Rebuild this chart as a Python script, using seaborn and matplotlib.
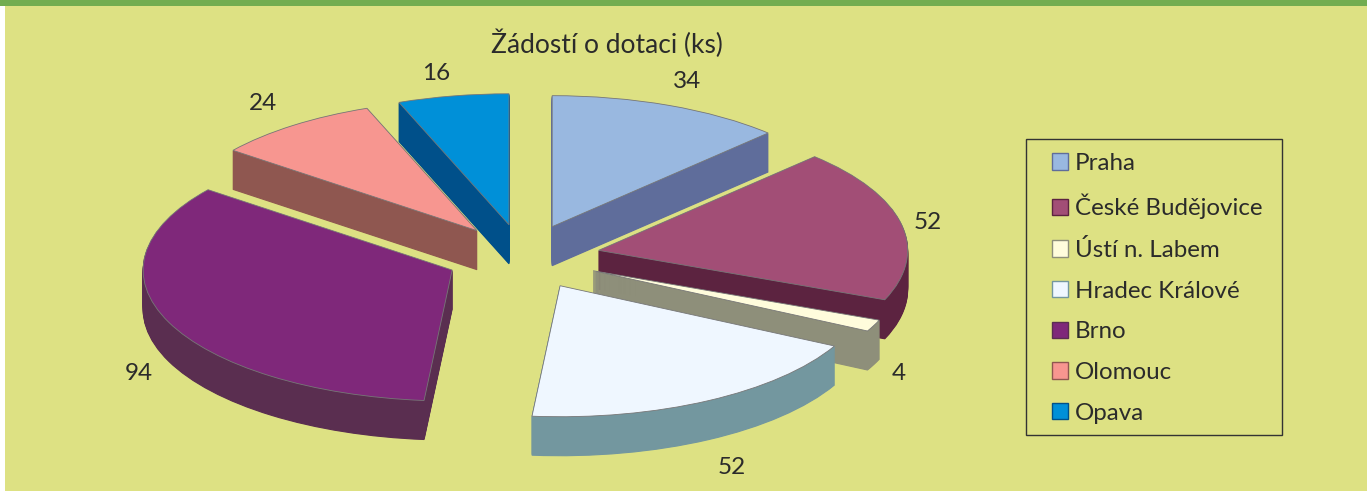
import matplotlib
matplotlib.use("Agg")
import matplotlib.pyplot as plt
from matplotlib.patches import Rectangle
import seaborn as sns

# data
regions = ["Praha", "České Budějovice", "Ústí n. Labem", "Hradec Králové", "Brno", "Olomouc", "Opava"]
requests = [34, 52, 4, 52, 94, 24, 16]
top_colors = ["#99b8e0", "#a24e76", "#fffcdc", "#eff7ff", "#7f287a", "#f79690", "#0090d8"]
side_colors = ["#5f6d9b", "#5c2340", "#8e8f7a", "#73979f", "#5a2e50", "#8f5750", "#00508a"]
draw_rank = [0, 4, 5, 6, 3, 2, 1]
chart_title = "Žádostí o dotaci (ks)"

W, H = 1367, 491
CX, CY, RX, RY = 523, 257, 309, 131
DEPTH = 39
BG = "#dde183"
BAND = "#72ad50"
INK = "#2b2b2b"

sns.set_style("white")
plt.rcParams["font.family"] = ["Lato", "DejaVu Sans"]

fig = plt.figure(figsize=(W / 100, H / 100), dpi=100, facecolor="white")
fig.add_artist(Rectangle((5 / W, 0), 1 - 5 / W, 1, transform=fig.transFigure, fc=BG, ec="none", zorder=-5))
fig.add_artist(Rectangle((0, 1 - 6 / H), 1, 6 / H, transform=fig.transFigure, fc=BAND, ec="none", zorder=-4))

ax = fig.add_axes([0, 0, 1, 1])
explode = [0.25] * len(requests)

for k in range(DEPTH, 0, -1):
    wedges, _ = ax.pie(requests, explode=explode, colors=side_colors, startangle=90,
                       counterclock=False, center=(0, -k / RY), radius=1,
                       wedgeprops=dict(linewidth=0.8))
    for w, sc, r in zip(wedges, side_colors, draw_rank):
        w.set_edgecolor(sc)
        w.set_zorder(10 + r * 100 + DEPTH - k)

top, _ = ax.pie(requests, explode=explode, colors=top_colors, startangle=90,
                counterclock=False, center=(0, 0), radius=1,
                wedgeprops=dict(linewidth=0.6, edgecolor="#777777"))
for w, r in zip(top, draw_rank):
    w.set_zorder(10 + r * 100 + DEPTH + 1)

ax.set_aspect("auto")
ax.set_xlim(-CX / RX, (W - CX) / RX)
ax.set_ylim(-(H - CY) / RY, CY / RY)
ax.axis("off")


def px_text(x, y, s, size=17.5):
    fig.text(x / W, 1 - y / H, s, ha="center", va="center", fontsize=size, color=INK)


px_text(607, 44, chart_title, 19)
label_px = [(687, 82), (928, 222), (899, 374), (732, 468), (139, 374), (263, 104), (436, 74)]
for (x, y), v in zip(label_px, requests):
    px_text(x, y, str(v))

fig.add_artist(Rectangle((1026 / W, 1 - 435 / H), 256 / W, 296 / H, transform=fig.transFigure,
                         fc="none", ec="#333333", lw=1))
handles = [Rectangle((0, 0), 1, 1, fc=c, ec=s, lw=1) for c, s in zip(top_colors, side_colors)]
leg = fig.legend(handles, regions, loc="upper left",
                 bbox_to_anchor=(1052 / W, 1 - 153 / H),
                 frameon=False, fontsize=17.4, labelcolor=INK,
                 handlelength=0.66, handleheight=0.66,
                 handletextpad=0.28, labelspacing=0.815, borderpad=0, borderaxespad=0)

fig.savefig("out.png", dpi=100, facecolor=fig.get_facecolor())
